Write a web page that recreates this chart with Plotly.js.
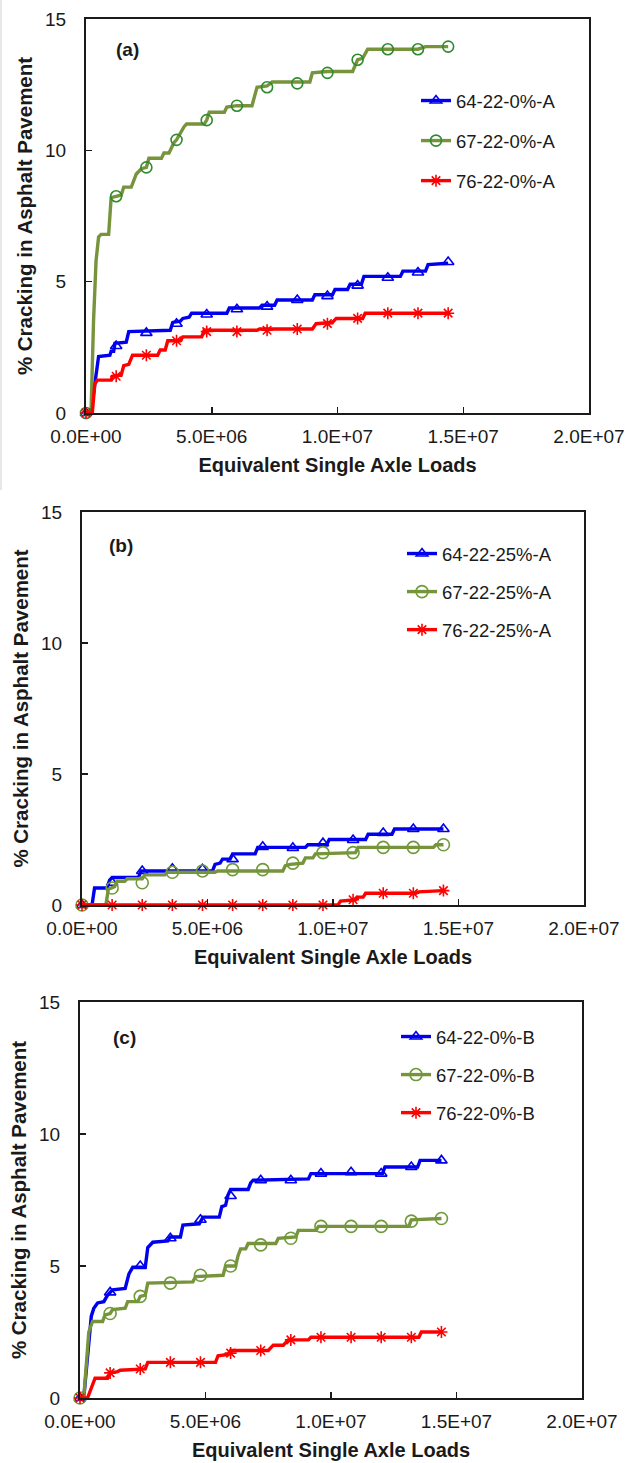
<!DOCTYPE html>
<html>
<head>
<meta charset="utf-8">
<script src="https://cdn.plot.ly/plotly-3.0.1.min.js"></script>
<style>html,body{margin:0;padding:0;background:#fff;}#chart{width:629px;height:1463px;}</style>
</head>
<body>
<div id="chart"></div>
<script>
// ---- tick labels ----
const xTickVals = [0, 5, 10, 15, 20];            // ESAL in millions
const xTickText = ['0.0E+00', '5.0E+06', '1.0E+07', '1.5E+07', '2.0E+07'];
const yTickVals = [0, 5, 10, 15];
const xTitle = 'Equivalent Single Axle Loads';
const yTitle = '% Cracking in Asphalt Pavement';
const panelLabels = ['(a)', '(b)', '(c)'];

// marker (yearly) positions, ESAL in millions
const markerX = [0, 1.2, 2.4, 3.6, 4.8, 6.0, 7.2, 8.4, 9.6, 10.8, 12.0, 13.2, 14.4];

// ---- panel (a) ----
const namesA = ['64-22-0%-A', '67-22-0%-A', '76-22-0%-A'];
const a64x = [0,0.2,0.35,0.5,0.95,1.0,1.1,1.15,1.6,1.7,3.35,3.45,3.75,3.85,4.1,4.2,5.6,5.7,6.9,7.0,7.5,7.6,9.0,9.1,9.8,9.9,10.4,10.5,10.95,11.05,12.5,12.6,13.5,13.6,14.4];
const a64y = [0,0,1.1,2.15,2.2,2.35,2.35,2.65,2.7,3.1,3.15,3.45,3.5,3.6,3.65,3.8,3.8,4.0,4.0,4.1,4.1,4.3,4.3,4.5,4.5,4.7,4.7,4.9,4.9,5.2,5.2,5.4,5.4,5.65,5.7];
const a64m = [0,2.55,3.05,3.4,3.75,3.95,4.05,4.3,4.45,4.85,5.15,5.35,5.75];
const a67x = [0,0.2,0.3,0.4,0.5,0.6,0.9,1.0,1.2,1.4,1.5,1.8,2.0,2.2,2.4,2.5,3.0,3.1,3.3,3.5,3.6,3.9,4.0,4.7,4.8,4.9,5.5,5.6,6.0,6.6,6.8,7.2,7.4,8.9,9.0,9.6,10.6,10.8,11.0,11.2,13.2,13.5,14.4];
const a67y = [0,0,3.5,5.8,6.7,6.8,6.8,8.2,8.25,8.3,8.6,8.6,9.1,9.3,9.35,9.7,9.7,9.9,9.9,10.3,10.4,10.9,11.0,11.0,11.15,11.45,11.45,11.65,11.7,11.7,12.4,12.45,12.6,12.6,12.95,13.0,13.0,13.45,13.5,13.85,13.85,13.95,13.95];
const a67m = [0,8.25,9.35,10.4,11.15,11.7,12.4,12.55,12.95,13.45,13.85,13.85,13.95];
const a76x = [0,0.25,0.35,0.45,1.0,1.05,1.4,1.5,1.7,1.85,2.85,2.95,3.15,3.25,3.75,3.85,4.6,4.7,6.8,6.9,9.0,9.15,9.8,9.95,11.0,11.1,14.4];
const a76y = [0,0,1.1,1.25,1.25,1.4,1.45,1.8,1.85,2.2,2.2,2.4,2.4,2.75,2.75,2.9,2.9,3.15,3.15,3.2,3.2,3.4,3.45,3.6,3.6,3.8,3.8];
const a76m = [0,1.4,2.2,2.75,3.1,3.1,3.15,3.2,3.4,3.6,3.8,3.8,3.8];

// ---- panel (b) ----
const namesB = ['64-22-25%-A', '67-22-25%-A', '76-22-25%-A'];
const b64x = [0,0.4,0.5,1.0,1.1,1.2,2.25,2.35,5.2,5.3,5.5,5.6,5.9,6.0,6.9,7.0,8.9,9.0,9.75,9.85,11.3,11.4,12.35,12.45,14.4];
const b64y = [0,0,0.65,0.65,0.95,1.05,1.05,1.3,1.3,1.55,1.6,1.75,1.75,1.95,1.95,2.2,2.2,2.3,2.3,2.5,2.5,2.7,2.7,2.9,2.9];
const b64m = [0,0.85,1.3,1.38,1.36,1.75,2.22,2.18,2.36,2.48,2.75,2.9,2.9];
const b67x = [0,0.95,1.05,1.3,1.4,1.7,1.8,2.4,2.5,3.3,3.4,5.3,5.4,8.0,8.1,8.3,8.8,8.9,9.2,9.3,10.9,11.0,14.0,14.1,14.4];
const b67y = [0,0,0.6,0.7,0.9,0.9,1.0,1.0,1.15,1.15,1.25,1.25,1.3,1.3,1.5,1.55,1.6,1.8,1.8,1.95,2.0,2.2,2.2,2.3,2.3];
const b67m = [0,0.65,0.85,1.25,1.3,1.35,1.35,1.6,2.0,2.0,2.2,2.2,2.3];
const b76x = [0,10.2,10.3,10.9,11.0,11.2,11.3,13.3,13.4,14.4];
const b76y = [0,0,0.15,0.2,0.3,0.3,0.45,0.45,0.5,0.55];
const b76m = [0,0,0,0,0,0,0,0,0,0.2,0.45,0.45,0.55];

// ---- panel (c) ----
const namesC = ['64-22-0%-B', '67-22-0%-B', '76-22-0%-B'];
const c64x = [0,0.15,0.45,0.55,0.7,0.95,1.1,1.3,1.8,1.95,2.1,2.6,2.7,2.9,3.5,3.6,4.0,4.1,4.75,4.9,5.55,5.65,5.8,5.9,6.0,6.7,6.8,6.9,9.1,9.2,12.05,12.15,13.45,13.55,14.4];
const c64y = [0,0,3.1,3.4,3.6,3.65,3.9,4.1,4.15,4.7,4.95,4.95,5.7,5.9,5.95,6.1,6.1,6.55,6.6,6.85,6.85,7.25,7.3,7.7,7.9,7.9,8.15,8.25,8.3,8.5,8.5,8.75,8.75,9.0,9.0];
const c64m = [0,4.0,5.0,6.05,6.75,7.65,8.25,8.25,8.5,8.55,8.5,8.75,9.0];
const c67x = [0,0.15,0.35,0.5,0.9,1.0,1.2,1.3,1.8,1.9,2.3,2.4,2.6,2.7,4.5,4.6,5.7,5.8,6.2,6.3,6.4,6.6,6.7,7.8,7.9,8.6,8.7,9.4,9.5,13.1,13.2,14.4];
const c67y = [0,0,2.5,2.9,2.9,3.15,3.2,3.35,3.4,3.65,3.65,3.85,3.9,4.35,4.4,4.6,4.65,5.0,5.0,5.4,5.65,5.65,5.85,5.85,6.05,6.1,6.35,6.35,6.5,6.5,6.75,6.8];
const c67m = [0,3.2,3.85,4.35,4.65,5.0,5.8,6.05,6.5,6.5,6.5,6.7,6.8];
const c76x = [0,0.3,0.6,1.1,1.2,1.5,1.6,2.6,2.7,5.4,5.5,5.9,6.0,7.5,7.7,8.1,8.3,9.1,9.2,13.5,13.6,14.4];
const c76y = [0,0,0.75,0.75,0.95,1.0,1.05,1.1,1.35,1.35,1.6,1.65,1.8,1.8,2.0,2.0,2.2,2.2,2.3,2.3,2.5,2.5];
const c76m = [0,0.95,1.1,1.35,1.35,1.7,1.8,2.2,2.3,2.3,2.3,2.3,2.5];

// ---- styles ----
const FONT = 'Liberation Sans, Arial, sans-serif';
const INK = '#1a1a1a';
const BLUE = '#0000EE', RED = '#FF0000', OLIVE = '#77933C';
function styles(greenMarker, circleSize) {
  return [
    {line: BLUE, mk: BLUE, sym: 'triangle-up-open', size: 10},
    {line: OLIVE, mk: greenMarker, sym: 'circle-open', size: circleSize},
    {line: RED, mk: RED, sym: 'asterisk-open', size: 10}
  ];
}

const traces = [];
function addSeries(xs, ys, ms, st, name, ax, lg) {
  const xa = 'x' + ax, ya = 'y' + ax;
  traces.push({x: xs, y: ys, mode: 'lines', line: {color: st.line, width: 3.4},
    xaxis: xa, yaxis: ya, showlegend: false, hoverinfo: 'skip', cliponaxis: false});
  traces.push({x: markerX, y: ms, mode: 'markers', xaxis: xa, yaxis: ya, showlegend: false, cliponaxis: false,
    marker: {symbol: st.sym, size: st.size, color: st.mk, line: {color: st.mk, width: 1.6}}});
  traces.push({x: [null], y: [null], mode: 'lines+markers', name: name, legend: lg, legendgroup: lg + name,
    xaxis: xa, yaxis: ya, line: {color: st.line, width: 3.4},
    marker: {symbol: st.sym, size: st.size, color: st.mk, line: {color: st.mk, width: 1.6}}});
}
const sA = styles('#2E8B2E', 11), sB = styles('#6E9A38', 12), sC = styles('#6E9A38', 12);
addSeries(a64x, a64y, a64m, sA[0], namesA[0], '', 'legend');
addSeries(a67x, a67y, a67m, sA[1], namesA[1], '', 'legend');
addSeries(a76x, a76y, a76m, sA[2], namesA[2], '', 'legend');
addSeries(b64x, b64y, b64m, sB[0], namesB[0], '2', 'legend2');
addSeries(b67x, b67y, b67m, sB[1], namesB[1], '2', 'legend2');
addSeries(b76x, b76y, b76m, sB[2], namesB[2], '2', 'legend2');
addSeries(c64x, c64y, c64m, sC[0], namesC[0], '3', 'legend3');
addSeries(c67x, c67y, c67m, sC[1], namesC[1], '3', 'legend3');
addSeries(c76x, c76y, c76m, sC[2], namesC[2], '3', 'legend3');

const W = 629, H = 1463;
const px = v => v / W, py = v => 1 - v / H;

function xAxis(l, r) {
  return {domain: [px(l), px(r)], range: [0, 20], tickvals: xTickVals, ticktext: xTickText,
    ticks: 'inside', ticklen: 6, tickwidth: 1.5, tickcolor: INK,
    showline: true, mirror: true, linecolor: INK, linewidth: 2, showgrid: false, zeroline: false,
    tickfont: {family: FONT, size: 19, color: INK}, ticklabelstandoff: 5,
    title: {text: xTitle, font: {family: FONT, size: 20, color: INK, weight: 'bold'}, standoff: 12}};
}
function yAxis(top, bottom, anchor) {
  return {domain: [py(bottom), py(top)], range: [0, 15], tickvals: yTickVals, anchor: anchor,
    ticks: 'inside', ticklen: 6, tickwidth: 1.5, tickcolor: INK,
    showline: true, mirror: true, linecolor: INK, linewidth: 2, showgrid: false, zeroline: false,
    tickfont: {family: FONT, size: 19, color: INK}, ticklabelstandoff: 14,
    title: {text: yTitle, font: {family: FONT, size: 20.5, color: INK, weight: 'bold'}, standoff: 7}};
}
function legendAt(xLeft, yTop, gap) {
  return {x: px(xLeft), y: py(yTop), xanchor: 'left', yanchor: 'top', bgcolor: 'rgba(0,0,0,0)',
    font: {family: FONT, size: 18.5, color: INK}, tracegroupgap: gap, itemwidth: 30};
}

const xa = xAxis(86, 589), xb = xAxis(82, 584), xc = xAxis(80, 582);
xa.anchor = 'y'; xb.anchor = 'y2'; xc.anchor = 'y3';
function panelLabel(t, x, y) {
  return {text: t, x: px(x), y: py(y), xref: 'paper', yref: 'paper', xanchor: 'center', yanchor: 'middle',
    showarrow: false, font: {family: FONT, size: 19, color: INK, weight: 'bold'}};
}
const layout = {
  width: W, height: H, autosize: false,
  margin: {l: 0, r: 0, t: 0, b: 0},
  paper_bgcolor: '#fff', plot_bgcolor: '#fff',
  font: {family: FONT, color: INK},
  xaxis: xa, yaxis: yAxis(19, 413, 'x'),
  xaxis2: xb, yaxis2: yAxis(512, 905, 'x2'),
  xaxis3: xc, yaxis3: yAxis(1002, 1398, 'x3'),
  legend: legendAt(416, 82, 13),
  legend2: legendAt(402, 535, 11),
  legend3: legendAt(396, 1018, 11),
  annotations: [
    panelLabel(panelLabels[0], 127, 50),
    panelLabel(panelLabels[1], 121, 545),
    panelLabel(panelLabels[2], 124, 1037)
  ],
  shapes: [
    {type: 'line', xref: 'paper', yref: 'paper', x0: px(1), x1: px(1), y0: py(0), y1: py(490), line: {color: '#cfcfcf', width: 1}}
  ]
};

Plotly.newPlot('chart', traces, layout, {displayModeBar: false, staticPlot: true});
</script>
</body>
</html>
